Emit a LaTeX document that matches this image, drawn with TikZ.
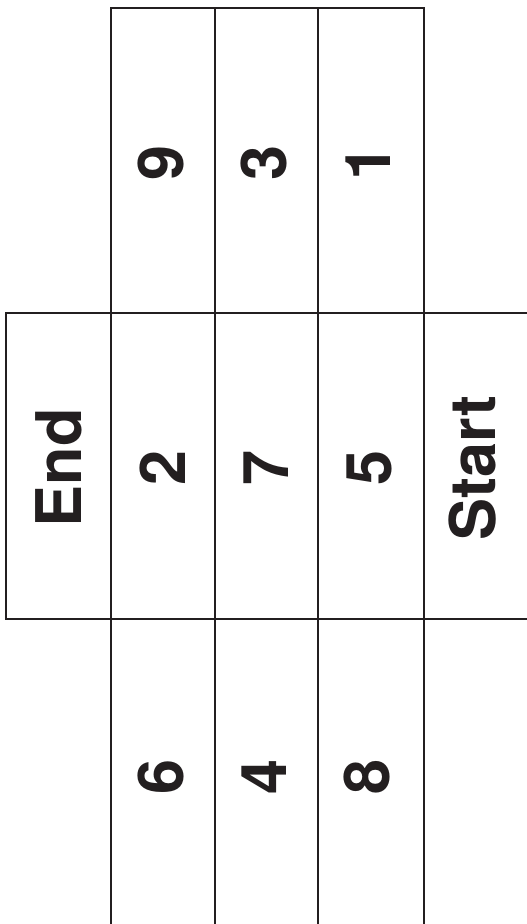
\documentclass[tikz,border=0pt]{standalone}
\usepackage{fontspec}
\setmainfont{TeX Gyre Heros}
\definecolor{ink}{HTML}{231F20}
\begin{document}
\begin{tikzpicture}[x=1pt,y=-1pt,
  gridline/.style={draw=ink,line width=2.6pt},
  celltext/.style={text=ink,rotate=90,inner sep=0pt,font=\fontsize{63}{70}\selectfont\bfseries}]
\useasboundingbox (0,0) rectangle (527,924);
\begin{scope}
\clip (0,0) rectangle (527,924);
% top block
\draw[gridline] (111,924) -- (111,8) -- (424,8) -- (424,924);
\draw[gridline] (215,8) -- (215,924);
\draw[gridline] (318,8) -- (318,924);
% middle band
\draw[gridline] (540,313) -- (6,313) -- (6,619) -- (540,619);
\end{scope}
% texts
\node[celltext] (n9) at (161,163) {9};
\node[celltext] (n3) at (264,163) {3};
\node[celltext] (n1) at (368,163) {1};
\node[celltext] (end) at (59,468) {End};
\node[celltext] (n2) at (163,468) {2};
\node[celltext] (n7) at (266,468) {7};
\node[celltext] (n5) at (369,468) {5};
\node[celltext] (start) at (473,468) {Start};
\node[celltext] (n6) at (161,777) {6};
\node[celltext] (n4) at (264,777) {4};
\node[celltext] (n8) at (367,777) {8};
\end{tikzpicture}
\end{document}
